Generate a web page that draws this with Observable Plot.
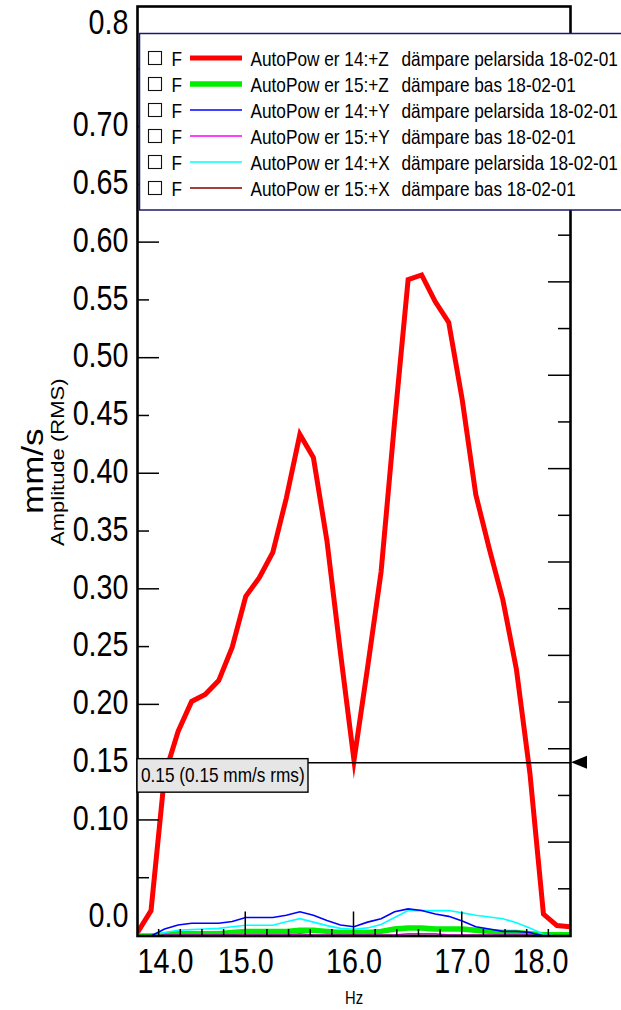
<!DOCTYPE html>
<html><head><meta charset="utf-8">
<script src="https://cdn.jsdelivr.net/npm/d3@7"></script>
<script src="https://cdn.jsdelivr.net/npm/@observablehq/plot@0.6"></script>
<style>
html,body{margin:0;padding:0;background:#fff;}
#chart{position:relative;width:621px;height:1010px;overflow:hidden;}
</style></head><body><div id="chart"></div>
<script>
// ---------- data ----------
const freqHz = [14.0,14.125,14.25,14.375,14.5,14.625,14.75,14.875,15.0,15.125,15.25,15.375,15.5,15.625,15.75,15.875,16.0,16.125,16.25,16.375,16.5,16.625,16.75,16.875,17.0,17.125,17.25,17.375,17.5,17.625,17.75,17.875,18.0];
const ampZ14 = [0.003,0.022,0.139,0.177,0.203,0.209,0.221,0.250,0.294,0.310,0.332,0.379,0.434,0.414,0.342,0.245,0.152,0.232,0.315,0.445,0.568,0.572,0.549,0.531,0.464,0.382,0.335,0.291,0.231,0.141,0.019,0.009,0.008];
const ampZ15 = [0.000,0.000,0.001,0.002,0.002,0.002,0.002,0.003,0.004,0.004,0.004,0.004,0.005,0.005,0.004,0.003,0.003,0.003,0.004,0.006,0.007,0.007,0.006,0.006,0.006,0.005,0.004,0.003,0.003,0.002,0.001,0.001,0.001];
const ampY14 = [0.000,0.000,0.006,0.0095,0.011,0.011,0.011,0.0125,0.016,0.016,0.016,0.018,0.021,0.018,0.0135,0.0095,0.008,0.012,0.015,0.021,0.0235,0.022,0.019,0.017,0.013,0.008,0.006,0.004,0.004,0.003,0.000,0.000,0.000];
const ampY15 = [0.000,0.000,0.001,0.001,0.001,0.001,0.001,0.001,0.001,0.001,0.001,0.001,0.002,0.001,0.001,0.001,0.001,0.001,0.001,0.001,0.002,0.002,0.002,0.001,0.001,0.001,0.001,0.001,0.001,0.001,0.000,0.000,0.000];
const ampX14 = [0.000,0.000,0.003,0.005,0.0055,0.006,0.0066,0.008,0.0093,0.0093,0.0093,0.0124,0.015,0.012,0.009,0.0066,0.0058,0.007,0.010,0.016,0.022,0.022,0.022,0.022,0.020,0.018,0.0165,0.015,0.0115,0.007,0.0015,0.000,0.000];
const ampX15 = [0.000,0.000,0.0005,0.0005,0.0005,0.0005,0.0005,0.0005,0.0005,0.0005,0.0005,0.0005,0.0005,0.0005,0.0005,0.0005,0.0005,0.0005,0.0005,0.0005,0.0005,0.0005,0.0005,0.0005,0.0005,0.0005,0.0005,0.0005,0.0005,0.0005,0.000,0.000,0.000];

const seriesKeys = ["Z14","Z15","Y14","Y15","X14","X15"];
const legendChannels = ["AutoPow er 14:+Z","AutoPow er 15:+Z","AutoPow er 14:+Y","AutoPow er 15:+Y","AutoPow er 14:+X","AutoPow er 15:+X"];
const legendLocations = ["dämpare pelarsida 18-02-01","dämpare bas 18-02-01","dämpare pelarsida 18-02-01","dämpare bas 18-02-01","dämpare pelarsida 18-02-01","dämpare bas 18-02-01"];
const legendFlag = "F";

const yLabelValues = [0.0,0.10,0.15,0.20,0.25,0.30,0.35,0.40,0.45,0.50,0.55,0.60,0.65,0.70,0.8];
const yLabelTexts  = ["0.0","0.10","0.15","0.20","0.25","0.30","0.35","0.40","0.45","0.50","0.55","0.60","0.65","0.70","0.8"];
const yMajorTicks = [0.1,0.2,0.3,0.4,0.5,0.6,0.7];
const yMinorTicks = [0.05,0.15,0.25,0.35,0.45,0.55,0.65,0.75];
const rightMajorTicks = [0.0808,0.1616,0.2424,0.3232,0.4040,0.4848,0.5656];
const rightMinorTicks = [0.0404,0.1212,0.2020,0.2828,0.3636,0.4444,0.5252,0.6060];
const xLabelValues = [14,15,16,17,18];
const xLabelTexts = ["14.0","15.0","16.0","17.0","18.0"];
const xMajorTicks = [15,16,17];
const xMinorTicks = [14.2,14.4,14.6,14.8,15.2,15.4,15.6,15.8,16.2,16.4,16.6,16.8,17.2,17.4,17.6,17.8];
const refLevel = 0.15;
const refText = "0.15 (0.15 mm/s rms)";
const yUnit = "mm/s";
const yTitle = "Amplitude (RMS)";
const xTitle = "Hz";

// ---------- table ----------
const seriesValues = {Z14: ampZ14, Z15: ampZ15, Y14: ampY14, Y15: ampY15, X14: ampX14, X15: ampX15};
const rows = [];
for (const k of seriesKeys) freqHz.forEach((f, i) => rows.push({series: k, f, amp: seriesValues[k][i]}));

// ---------- styles ----------
const style = {
  Z14: {stroke: "#ff0000", w: 5},
  Z15: {stroke: "#00ee00", w: 5.5},
  Y14: {stroke: "#0000ff", w: 1.6},
  Y15: {stroke: "#ff00ff", w: 1.4},
  X14: {stroke: "#00ffff", w: 1.6},
  X15: {stroke: "#800000", w: 1.4}
};
const drawOrder = ["Z15","X15","Y15","X14","Y14","Z14"];

function ticks(values, axis, side, len) {
  return (index, scales, v, dims) => {
    const g = d3.create("svg:g").attr("stroke", "#000").attr("stroke-width", 1.5);
    const L = dims.marginLeft, R = dims.width - dims.marginRight, B = dims.height - dims.marginBottom;
    for (const val of values) {
      if (axis === "x") {
        const x = scales.x(val);
        g.append("line").attr("x1", x).attr("x2", x).attr("y1", B).attr("y2", B - len);
      } else {
        const y = scales.y(val);
        const x0 = side === "left" ? L : R;
        const x1 = side === "left" ? L + len : R - len;
        g.append("line").attr("x1", x0).attr("x2", x1).attr("y1", y).attr("y2", y);
      }
    }
    return g.node();
  };
}

function refMark(index, scales, v, dims) {
  const y = scales.y(refLevel);
  const L = dims.marginLeft, R = dims.width - dims.marginRight;
  const g = d3.create("svg:g").attr("text-anchor", "start");
  g.append("rect").attr("x", L).attr("y", y - 3.5).attr("width", 171).attr("height", 33.5)
    .attr("fill", "#e6e6e6").attr("stroke", "#000").attr("stroke-width", 1.4);
  g.append("text").attr("x", L + 4).attr("y", y + 20).attr("font-size", 21).attr("fill", "#000").text(refText);
  g.append("path").attr("d", `M${R + 1},${y} L${R + 17},${y - 6.5} L${R + 17},${y + 6.5} Z`).attr("fill", "#000");
  return g.node();
}

function legendMark(index, scales, v, dims) {
  const g = d3.create("svg:g").attr("font-size", 21).attr("text-anchor", "start").attr("fill", "#000");
  g.append("rect").attr("x", 139.5).attr("y", 33.5).attr("width", 600).attr("height", 176.5)
    .attr("fill", "#fff").attr("stroke", "#1a1a70").attr("stroke-width", 1.5);
  seriesKeys.forEach((k, i) => {
    const cy = 58 + 26 * i;
    g.append("rect").attr("x", 148.5).attr("y", cy - 6.5).attr("width", 13).attr("height", 13)
      .attr("fill", "#fff").attr("stroke", "#111").attr("stroke-width", 1.1);
    g.append("text").attr("x", 171.5).attr("y", cy + 7.5).text(legendFlag);
    g.append("line").attr("x1", 190).attr("x2", 242).attr("y1", cy).attr("y2", cy)
      .attr("stroke", style[k].stroke).attr("stroke-width", style[k].w);
    g.append("text").attr("x", 250.5).attr("y", cy + 7.5).text(legendChannels[i]);
    g.append("text").attr("x", 401.5).attr("y", cy + 7.5).text(legendLocations[i]);
  });
  return g.node();
}

const yLab = yLabelValues.map((v, i) => ({v, t: yLabelTexts[i]}));
const xLab = xLabelValues.map((v, i) => ({v, t: xLabelTexts[i]}));
const yTop = yLabelValues[yLabelValues.length - 1];
const xText = {frameAnchor: "bottom", lineAnchor: "middle", dy: 25.5, fontSize: 35, fill: "#000"};

const svg = Plot.plot({
  width: 621, height: 1010,
  marginLeft: 137, marginRight: 51, marginTop: 6, marginBottom: 74.5,
  x: {domain: [xLabelValues[0], xLabelValues[xLabelValues.length - 1]], axis: null},
  y: {domain: [0, yTop * 1.0054], axis: null},
  style: {fontFamily: "'Liberation Sans', Arial, sans-serif", background: "#fff", color: "#000"},
  marks: [
    ...drawOrder.map(k => Plot.line(rows.filter(d => d.series === k), {
      x: "f", y: "amp", stroke: style[k].stroke, strokeWidth: style[k].w,
      strokeLinejoin: "miter", strokeMiterlimit: 10, strokeLinecap: "butt", clip: true
    })),
    Plot.ruleY([refLevel], {stroke: "#000", strokeWidth: 1.5}),
    Plot.frame({stroke: "#000", strokeWidth: 2.6}),
    ticks(xMinorTicks, "x", "bottom", 6.5),
    ticks(xMajorTicks, "x", "bottom", 24),
    ticks(yMajorTicks, "y", "left", 22),
    ticks(yMinorTicks, "y", "left", 12),
    ticks(rightMajorTicks, "y", "right", 22),
    ticks(rightMinorTicks, "y", "right", 12),
    Plot.text(yLab.filter(d => d.v > 0 && d.v < yTop), {y: "v", text: "t", frameAnchor: "left", textAnchor: "end", dx: -9, dy: -2, fontSize: 35, fill: "#000"}),
    Plot.text(yLab.filter(d => d.v === 0), {y: "v", text: "t", frameAnchor: "left", textAnchor: "end", dx: -9, dy: -20, fontSize: 35, fill: "#000"}),
    Plot.text(yLab.filter(d => d.v === yTop), {y: "v", text: "t", frameAnchor: "left", textAnchor: "end", dx: -9, dy: 11, fontSize: 35, fill: "#000"}),
    Plot.text(xLab.filter((d, i) => i === 0), {x: "v", text: "t", textAnchor: "start", ...xText}),
    Plot.text(xLab.filter((d, i) => i > 0 && i < xLab.length - 1), {x: "v", text: "t", textAnchor: "middle", ...xText}),
    Plot.text(xLab.filter((d, i) => i === xLab.length - 1), {x: "v", text: "t", textAnchor: "end", dx: -2, ...xText}),
    Plot.text([yUnit], {text: d => d, frameAnchor: "left", textAnchor: "middle", rotate: -90, dx: -104, dy: 0, fontSize: 35, fill: "#000"}),
    Plot.text([yTitle], {text: d => d, frameAnchor: "left", textAnchor: "middle", rotate: -90, dx: -79, dy: -9, fontSize: 22, fill: "#000"}),
    Plot.text([xTitle], {text: d => d, frameAnchor: "bottom", lineAnchor: "middle", textAnchor: "middle", dy: 62.5, fontSize: 18, fill: "#000"}),
    refMark,
    legendMark
  ]
});
document.getElementById("chart").appendChild(svg);

// condensed text (the reference uses a narrow sans face)
svg.querySelectorAll("text").forEach(t => {
  const tr = t.getAttribute("transform") || "";
  if (/rotate/.test(tr)) { t.setAttribute("transform", tr + " scale(1,0.82)"); return; }
  const len = t.getComputedTextLength();
  if (len > 0) { t.setAttribute("textLength", (len * 0.82).toFixed(2)); t.setAttribute("lengthAdjust", "spacingAndGlyphs"); }
});
</script></body></html>
